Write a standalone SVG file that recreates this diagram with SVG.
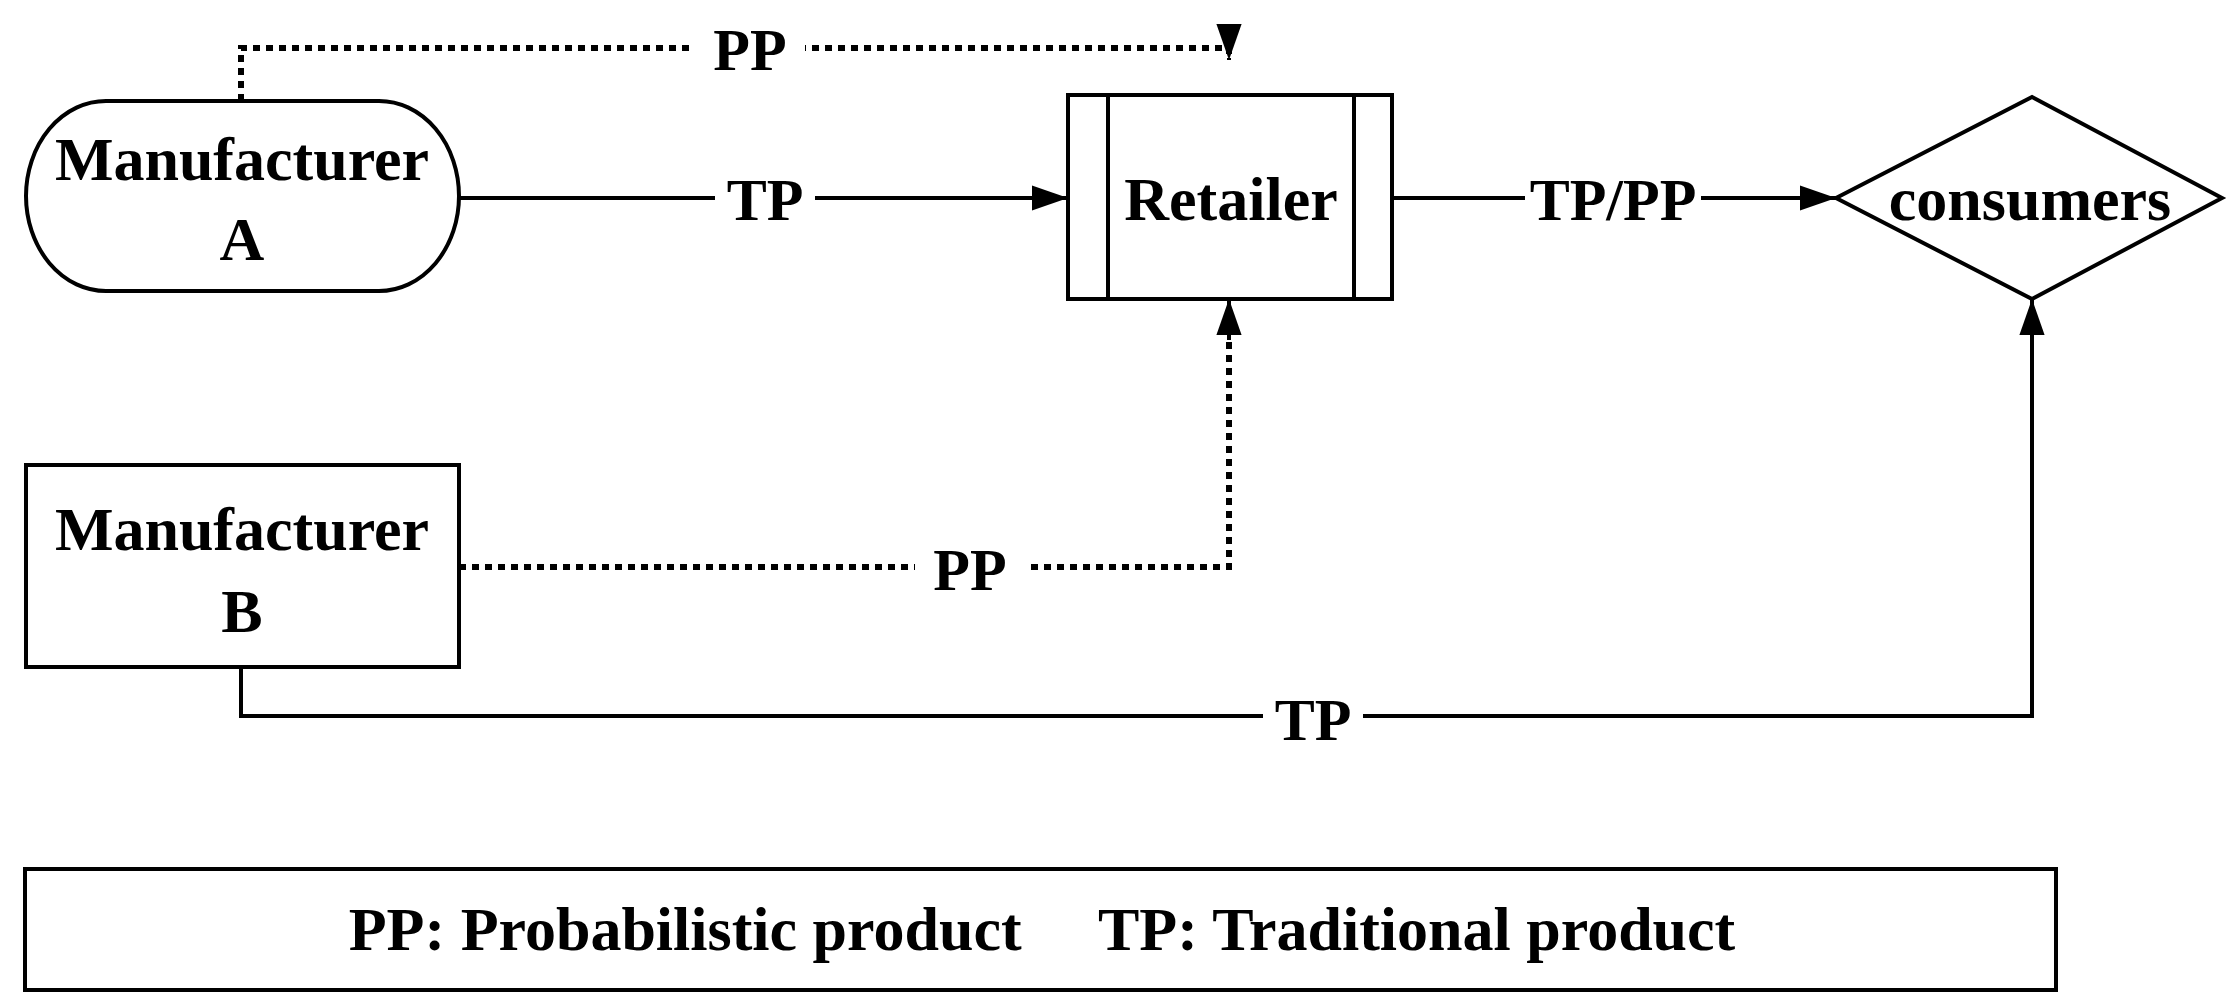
<svg xmlns="http://www.w3.org/2000/svg" width="2240" height="1007" viewBox="0 0 2240 1007">
<style>
.n{fill:#fff;stroke:#000;stroke-width:4}
.t{font-family:"Liberation Serif",serif;font-weight:bold;font-size:62px;text-anchor:middle;fill:#000}
.s{fill:none;stroke:#000;stroke-width:4}
.d{fill:none;stroke:#000;stroke-width:6;stroke-dasharray:7 6}
.lb{font-family:"Liberation Serif",serif;font-weight:bold;font-size:60px;text-anchor:middle;fill:#000}
</style>
<defs>
<marker id="a" viewBox="0 0 10 10" refX="10" refY="5" markerWidth="9" markerHeight="9" markerUnits="userSpaceOnUse" orient="auto"><path d="M0,0L10,5L0,10z"/></marker>
<marker id="ah" viewBox="0 0 10 10" refX="10" refY="5" markerWidth="36" markerHeight="36" markerUnits="userSpaceOnUse" orient="auto"><path d="M0,1.5L10,5L0,8.5z"/></marker>
</defs>
<rect width="2240" height="1007" fill="#fff"/>
<g id="connectors">
<path class="d" d="M241,101V48H1229V60" />
<path class="s" d="M1229,58V60" marker-end="url(#ah)"/>
<path class="d" d="M459,567H1229V340"/>
<path class="s" d="M1229,340V299" marker-end="url(#ah)"/>
<path class="s" d="M459,198H1068" marker-end="url(#ah)"/>
<path class="s" d="M1392,198H1836" marker-end="url(#ah)"/>
<path class="s" d="M241,667V716H2032V299" marker-end="url(#ah)"/>
<g class="lb">
<rect x="695" y="15" width="110" height="60" fill="#fff"/><text x="750" y="70">PP</text>
<rect x="715" y="165" width="100" height="60" fill="#fff"/><text x="765" y="220">TP</text>
<rect x="1525" y="165" width="176" height="60" fill="#fff"/><text x="1613" y="220">TP/PP</text>
<rect x="915" y="535" width="110" height="60" fill="#fff"/><text x="970" y="590">PP</text>
<rect x="1263" y="685" width="100" height="60" fill="#fff"/><text x="1313" y="740">TP</text>
</g>
</g>
<g id="manufacturerA"><rect class="n" x="26" y="101" width="433" height="190" rx="80" ry="95"/><text class="t" x="242" y="180">Manufacturer</text><text class="t" x="242" y="260">A</text></g>
<g id="retailer"><rect class="n" x="1068" y="95" width="324" height="204"/><path class="s" d="M1108,95V299M1354,95V299"/><text class="t" x="1231" y="220">Retailer</text></g>
<g id="consumers"><path class="n" d="M1836,198L2032,97L2222,198L2032,299z"/><text class="t" x="2030" y="220">consumers</text></g>
<g id="manufacturerB"><rect class="n" x="26" y="465" width="433" height="202"/><text class="t" x="242" y="550">Manufacturer</text><text class="t" x="242" y="632">B</text></g>
<g id="legend"><rect class="n" x="25" y="869" width="2031" height="121"/><text class="t" x="1042" y="950" xml:space="preserve">PP: Probabilistic product     TP: Traditional product</text></g>
</svg>
